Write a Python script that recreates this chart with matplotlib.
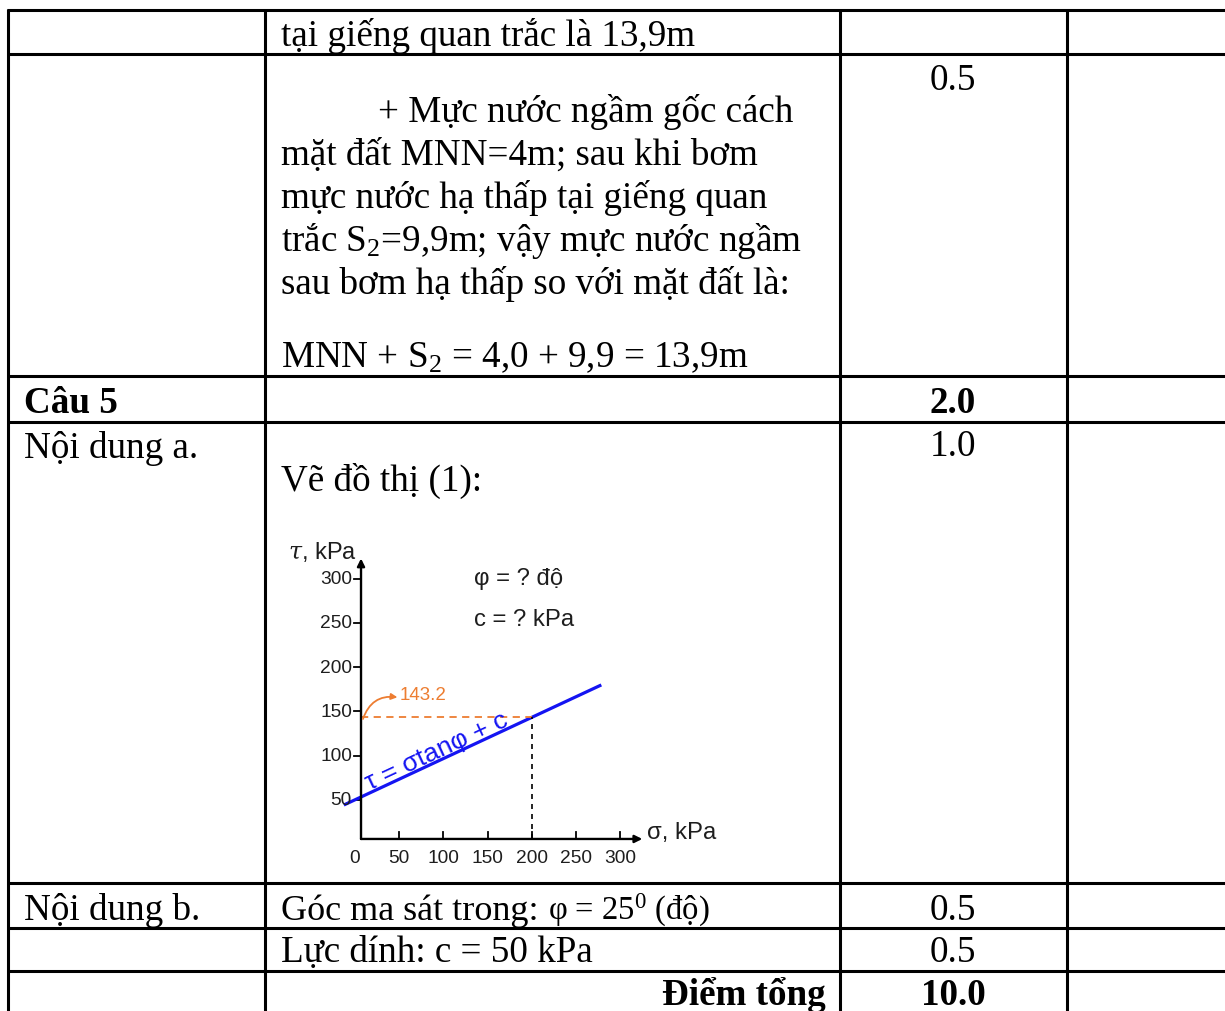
import numpy as np
import matplotlib.pyplot as plt

plt.rcParams['mathtext.fontset'] = 'custom'
plt.rcParams['mathtext.rm'] = 'Liberation Serif'
plt.rcParams['mathtext.it'] = 'Liberation Serif:italic'
plt.rcParams['mathtext.bf'] = 'Liberation Serif:bold'

# --- noi dung bang ---
dong_dau = 'tại giếng quan trắc là 13,9m'
doan_van = ['+ Mực nước ngầm gốc cách',
            'mặt đất MNN=4m; sau khi bơm',
            'mực nước hạ thấp tại giếng quan',
            r'trắc $\mathrm{S}_2$=9,9m; vậy mực nước ngầm',
            'sau bơm hạ thấp so với mặt đất là:']
dong_cuoi = r'MNN + $\mathrm{S}_2$ = 4,0 + 9,9 = 13,9m'
diem = ['0.5', '2.0', '1.0', '0.5', '0.5', '10.0']

# --- du lieu do thi ---
sigma_ticks = [50, 100, 150, 200, 250, 300]
tau_ticks = [50, 100, 150, 200, 250, 300]
phi_deg = 25
c_kpa = 50
sigma_diem = 200
tau_diem = 143.2
sigma_duong = [-11, 277]

W, H = 1225, 1012
fig = plt.figure(figsize=(W / 100, H / 100), dpi=100)
page = fig.add_axes([0, 0, 1, 1])
page.set_xlim(0, W)
page.set_ylim(H, 0)
page.axis('off')

serif = 'Liberation Serif'
fs = 26.7

# duong ke bang
cot_x = [8, 265, 840, 1067]
hang_y = [11, 55, 377, 423, 884, 929, 972]
for y in hang_y:
    page.plot([cot_x[0] - 1.5, W], [y, y], color='black', lw=2.2, solid_capstyle='butt')
for x in cot_x:
    page.plot([x, x], [hang_y[0] - 1.5, H], color='black', lw=2.2, solid_capstyle='butt')

def viet(x, y, s, **kw):
    kw.setdefault('family', serif)
    kw.setdefault('fontsize', fs)
    kw.setdefault('va', 'baseline')
    return page.text(x, y, s, **kw)

viet(281, 46, dong_dau)
viet(378, 122, doan_van[0])
for i, s in enumerate(doan_van[1:]):
    viet(281, 165 + 43 * i, s)
viet(281, 367, dong_cuoi)

xd = 953
viet(xd, 90, diem[0], ha='center')
viet(24, 413, 'Câu 5', weight='bold')
viet(xd, 413, diem[1], ha='center', weight='bold')
viet(24, 458, 'Nội dung a.')
viet(xd, 456, diem[2], ha='center')
viet(281, 491, 'Vẽ đồ thị (1):')
viet(24, 920, 'Nội dung b.')
t1 = viet(281, 920, 'Góc ma sát trong:', fontsize=26)
viet(xd, 920, diem[3], ha='center')
viet(281, 962, 'Lực dính: c = 50 kPa')
viet(xd, 962, diem[4], ha='center')
viet(826, 1005, 'Điểm tổng', ha='right', weight='bold')
viet(xd, 1005, diem[5], ha='center', weight='bold')

fig.canvas.draw()
r = fig.canvas.get_renderer()
bb = t1.get_window_extent(r)
x_end = page.transData.inverted().transform((bb.x1, bb.y0))[0]
viet(x_end + 9, 920, r'φ = 25$^{0}$ (độ)', fontsize=23.5)

# --- do thi nho ---
ox, oy, k = 355, 845, 0.884   # goc toa do (px) va ti le px / kPa
px0, py0, px1, py1 = 330, 540, 700, 870
ax = fig.add_axes([px0 / W, (H - py1) / H, (px1 - px0) / W, (py1 - py0) / H])
ax.set_xlim((px0 - ox) / k, (px1 - ox) / k)
ax.set_ylim((oy - py1) / k, (oy - py0) / k)
ax.axis('off')

sans = 'Liberation Sans'
mau_chu = '#1e1e1e'
x_truc, y_truc = 6.8, 5.7
ap = dict(arrowstyle='-|>', lw=1.7, color='black', mutation_scale=11, shrinkA=0, shrinkB=0)
ax.annotate('', xy=(325, y_truc), xytext=(x_truc, y_truc), arrowprops=ap)
ax.annotate('', xy=(x_truc, 323), xytext=(x_truc, y_truc), arrowprops=ap)

for s in sigma_ticks:
    ax.plot([s, s], [y_truc, y_truc + 8], color='black', lw=1.3)
for t in tau_ticks:
    ax.plot([x_truc - 8, x_truc], [t, t], color='black', lw=1.3)
    ax.text(-3.5, t, str(t), family=sans, fontsize=13.8, ha='right', va='center', color=mau_chu)
for s in [0] + sigma_ticks:
    ax.text(s, -15, str(s), family=sans, fontsize=13.8, ha='center', va='center', color=mau_chu)

ax.text(-76, 331, r'$\tau$, kPa', family=sans, fontsize=17, math_fontfamily='dejavuserif',
        ha='left', va='center', color=mau_chu, clip_on=False)
ax.text(330, 14, 'σ, kPa', family=sans, fontsize=17.2, ha='left', va='center', color=mau_chu)
ax.text(135, 301, 'φ = ? độ', family=sans, fontsize=17.2, ha='left', va='center', color=mau_chu)
ax.text(135, 254, 'c = ? kPa', family=sans, fontsize=17.2, ha='left', va='center', color=mau_chu)

xs = np.array(sigma_duong)
xanh = '#1414f2'
ax.plot(xs, c_kpa + xs * np.tan(np.radians(phi_deg)), color=xanh, lw=2.3)
ax.text(93, 106, 'τ = σtanφ + c', family=sans, fontsize=19, color=xanh,
        rotation=phi_deg, rotation_mode='anchor', ha='center', va='center')

cam = '#ED7D31'
ax.plot([x_truc, sigma_diem], [tau_diem, tau_diem], color=cam, lw=1.3, ls=(0, (4, 3)))
ax.plot([sigma_diem, sigma_diem], [y_truc, tau_diem], color='black', lw=1.2, ls=(0, (3, 3)))
ax.annotate('', xy=(48, 166), xytext=(9, 141.4),
            arrowprops=dict(arrowstyle='-|>', color=cam, lw=1.3, mutation_scale=9,
                            shrinkA=0, shrinkB=0, connectionstyle='arc3,rad=-0.4'))
ax.text(51, 169.5, '143.2', family=sans, fontsize=13.5, color=cam, ha='left', va='center')

fig.savefig('out.png', dpi=100)
